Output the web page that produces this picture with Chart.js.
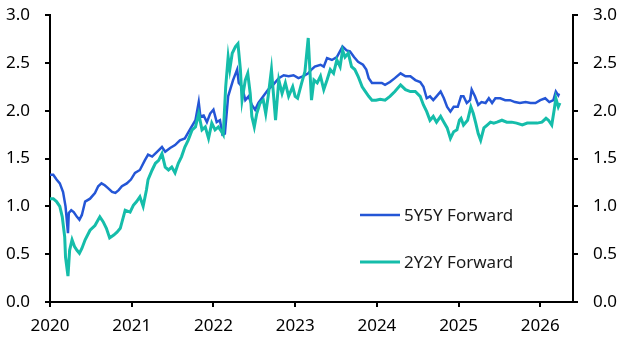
<!DOCTYPE html>
<html>
<head>
<meta charset="utf-8">
<script src="https://cdn.jsdelivr.net/npm/chart.js@4/dist/chart.umd.min.js"></script>
<style>
  html, body { margin: 0; padding: 0; background: #fff; }
  #wrap { width: 626px; height: 354px; }
</style>
</head>
<body>
<div id="wrap"><canvas id="fwdChart" width="626" height="354"></canvas></div>
<script>
// 5Y5Y and 2Y2Y forward rates (decimal years)

const blueDates = [2020.00,2020.04,2020.08,2020.12,2020.16,2020.19,2020.22,2020.23,2020.26,2020.29,2020.33,2020.36,2020.39,2020.43,2020.49,2020.55,2020.59,2020.63,2020.67,2020.71,2020.76,2020.80,2020.84,2020.88,2020.94,2020.99,
  2021.04,2021.10,2021.16,2021.20,2021.25,2021.31,2021.37,2021.41,2021.47,2021.53,2021.59,2021.65,2021.71,2021.78,2021.82,2021.84,2021.88,2021.92,2021.96,
  2022.00,2022.04,2022.08,2022.11,2022.14,2022.18,2022.24,2022.29,2022.31,2022.35,2022.39,2022.43,2022.47,2022.51,2022.55,2022.61,2022.67,2022.73,2022.80,2022.86,2022.92,2022.98,
  2023.04,2023.10,2023.16,2023.20,2023.24,2023.31,2023.35,2023.39,2023.45,2023.51,2023.58,2023.63,2023.67,2023.72,2023.77,2023.83,2023.87,2023.90,2023.94,
  2024.00,2024.06,2024.10,2024.16,2024.22,2024.29,2024.35,2024.41,2024.47,2024.53,2024.57,2024.61,2024.65,2024.69,2024.73,2024.78,2024.82,2024.86,2024.90,2024.94,2024.99,
  2025.03,2025.06,2025.10,2025.14,2025.16,2025.20,2025.24,2025.28,2025.33,2025.37,2025.41,2025.45,2025.51,2025.57,2025.63,2025.69,2025.75,2025.82,2025.88,2025.94,
  2026.00,2026.06,2026.11,2026.16,2026.19,2026.22,2026.23];
const blueValues = [1.33,1.33,1.28,1.24,1.15,1.00,0.72,0.93,0.96,0.94,0.89,0.86,0.91,1.05,1.08,1.14,1.21,1.24,1.22,1.19,1.15,1.14,1.17,1.21,1.24,1.28,
  1.35,1.38,1.48,1.54,1.52,1.57,1.62,1.57,1.61,1.64,1.69,1.71,1.80,1.90,2.09,1.94,1.95,1.88,1.97,
  2.01,1.88,1.90,1.75,1.76,2.15,2.32,2.43,2.29,2.25,2.11,2.15,2.06,2.01,2.08,2.15,2.22,2.27,2.34,2.37,2.36,2.37,
  2.34,2.36,2.39,2.43,2.46,2.48,2.46,2.55,2.53,2.56,2.67,2.63,2.62,2.56,2.51,2.48,2.43,2.34,2.29,
  2.29,2.29,2.27,2.30,2.34,2.39,2.36,2.36,2.32,2.30,2.25,2.13,2.15,2.11,2.15,2.20,2.13,2.04,1.99,2.04,2.04,
  2.15,2.15,2.08,2.11,2.22,2.15,2.06,2.09,2.08,2.13,2.08,2.13,2.13,2.11,2.11,2.09,2.08,2.09,2.08,2.08,
  2.11,2.13,2.09,2.11,2.20,2.16,2.18];

const tealDates = [2020.00,2020.04,2020.08,2020.12,2020.15,2020.18,2020.19,2020.22,2020.24,2020.27,2020.30,2020.33,2020.36,2020.39,2020.43,2020.49,2020.55,2020.61,2020.65,2020.69,2020.73,2020.78,2020.82,2020.86,2020.92,2020.98,
  2021.02,2021.06,2021.10,2021.14,2021.18,2021.20,2021.25,2021.29,2021.33,2021.37,2021.41,2021.45,2021.49,2021.53,2021.57,2021.61,2021.65,2021.69,2021.74,2021.78,2021.82,2021.86,2021.90,2021.94,2021.98,
  2022.02,2022.06,2022.10,2022.12,2022.15,2022.18,2022.20,2022.23,2022.27,2022.30,2022.33,2022.35,2022.39,2022.42,2022.45,2022.47,2022.50,2022.53,2022.57,2022.61,2022.64,2022.67,2022.71,2022.73,2022.76,2022.80,2022.84,2022.88,2022.92,2022.97,
  2023.00,2023.03,2023.08,2023.12,2023.16,2023.18,2023.20,2023.23,2023.27,2023.31,2023.35,2023.39,2023.43,2023.47,2023.51,2023.55,2023.58,2023.61,2023.65,2023.69,2023.73,2023.77,2023.82,2023.86,2023.90,2023.94,2023.99,
  2024.04,2024.10,2024.16,2024.22,2024.29,2024.35,2024.41,2024.47,2024.53,2024.57,2024.61,2024.65,2024.69,2024.73,2024.78,2024.82,2024.86,2024.90,2024.94,2024.98,
  2025.01,2025.03,2025.06,2025.11,2025.15,2025.18,2025.21,2025.24,2025.27,2025.31,2025.35,2025.39,2025.43,2025.47,2025.53,2025.59,2025.65,2025.71,2025.78,2025.84,2025.90,2025.96,
  2026.02,2026.07,2026.10,2026.14,2026.17,2026.19,2026.22,2026.24];
const tealValues = [1.08,1.08,1.05,1.00,0.89,0.68,0.47,0.27,0.54,0.65,0.58,0.54,0.51,0.56,0.65,0.75,0.80,0.89,0.84,0.77,0.67,0.70,0.73,0.77,0.96,0.94,
  1.01,1.05,1.10,1.00,1.17,1.28,1.38,1.45,1.48,1.55,1.41,1.38,1.41,1.35,1.45,1.52,1.62,1.69,1.80,1.83,1.97,1.80,1.83,1.71,1.87,
  1.80,1.83,1.78,1.75,2.25,2.56,2.43,2.60,2.67,2.70,2.43,2.11,2.32,2.39,2.18,1.94,1.83,1.97,2.08,2.11,1.97,2.15,2.43,2.22,1.90,2.32,2.18,2.29,2.15,2.25,
  2.15,2.13,2.29,2.41,2.76,2.43,2.11,2.32,2.29,2.36,2.22,2.32,2.43,2.39,2.53,2.46,2.63,2.56,2.60,2.46,2.43,2.36,2.25,2.20,2.15,2.11,2.11,
  2.12,2.11,2.15,2.20,2.27,2.22,2.20,2.20,2.15,2.06,1.99,1.90,1.94,1.88,1.94,1.88,1.82,1.71,1.78,1.80,
  1.90,1.92,1.85,1.90,2.04,1.97,1.87,1.76,1.69,1.82,1.85,1.88,1.87,1.88,1.90,1.88,1.88,1.87,1.85,1.87,1.87,1.87,
  1.88,1.92,1.90,1.85,2.01,2.13,2.04,2.08];

const yearTicks = [2020, 2021, 2022, 2023, 2024, 2025, 2026];
const seriesNames = ["5Y5Y Forward", "2Y2Y Forward"];

const BLUE = "#2456d6";
const TEAL = "#15bdaa";
const FONT = "'Noto Sans', 'Open Sans', sans-serif";

const toPoints = (xs, ys) => xs.map((x, i) => ({ x: x, y: ys[i] }));

// legend drawn inside the plot area, right-middle
const insideLegend = {
    id: "insideLegend",
    afterDraw(chart) {
        const { ctx, chartArea } = chart;
        const x0 = chartArea.left + 310;
        const rows = [chartArea.top + 200, chartArea.top + 247];
        ctx.save();
        ctx.font = "17px " + FONT;
        ctx.textBaseline = "middle";
        ctx.fillStyle = "#1a1a1a";
        chart.data.datasets.forEach((ds, i) => {
            const y = rows[i];
            ctx.strokeStyle = ds.borderColor;
            ctx.lineWidth = ds.borderWidth;
            ctx.beginPath();
            ctx.moveTo(x0, y);
            ctx.lineTo(x0 + 40, y);
            ctx.stroke();
            ctx.fillText(ds.label, x0 + 44, y + 1);
        });
        ctx.restore();
    }
};

const axisGrid = { drawOnChartArea: false, drawTicks: true, tickLength: 5, color: "#000", lineWidth: 2 };
const axisBorder = { display: true, color: "#000", width: 2 };
const tickFont = { family: FONT, size: 17 };

// fixed axis widths, and no extra room reserved for the end labels
const fixWidth = w => s => { s.width = w; s.paddingTop = 0; s.paddingBottom = 0; };

new Chart(document.getElementById("fwdChart"), {
    type: "line",
    data: {
        datasets: [
            { label: seriesNames[0], data: toPoints(blueDates, blueValues), borderColor: BLUE, borderWidth: 2.5,
              pointRadius: 0, fill: false, tension: 0, order: 1, yAxisID: "y" },
            { label: seriesNames[1], data: toPoints(tealDates, tealValues), borderColor: TEAL, borderWidth: 3,
              pointRadius: 0, fill: false, tension: 0, order: 0, yAxisID: "y" }
        ]
    },
    options: {
        responsive: false,
        animation: false,
        layout: { padding: { top: 15, left: 0, right: 0, bottom: 0 } },
        plugins: { legend: { display: false }, tooltip: { enabled: false } },
        scales: {
            x: {
                type: "linear",
                min: 2020,
                max: 2026.4,
                afterFit: s => { s.height = 52; s.paddingLeft = 0; s.paddingRight = 0; },
                afterBuildTicks: s => { s.ticks = yearTicks.map(v => ({ value: v })); },
                ticks: { color: "#000", font: tickFont, padding: 9, maxRotation: 0, callback: v => String(v) },
                grid: axisGrid,
                border: axisBorder
            },
            y: {
                position: "left",
                min: 0,
                max: 3,
                afterFit: fixWidth(50),
                ticks: { stepSize: 0.5, color: "#000", font: tickFont, padding: 15, callback: v => v.toFixed(1) },
                grid: axisGrid,
                border: axisBorder
            },
            y2: {
                position: "right",
                min: 0,
                max: 3,
                afterFit: fixWidth(53),
                ticks: { stepSize: 0.5, color: "#000", font: tickFont, padding: 15, callback: v => v.toFixed(1) },
                grid: axisGrid,
                border: axisBorder
            }
        }
    },
    plugins: [insideLegend]
});
</script>
</body>
</html>
